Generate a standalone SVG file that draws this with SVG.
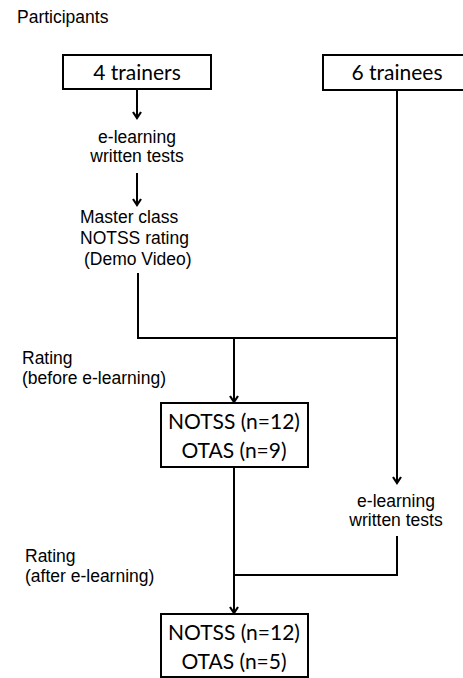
<svg xmlns="http://www.w3.org/2000/svg" width="463" height="678" viewBox="0 0 463 678">
  <style>
    .lbl { font-family: "Liberation Sans", Arial, sans-serif; font-size: 17.5px; fill: #000; }
    .box { fill: #fff; stroke: #000; stroke-width: 2; }
    .btxt { font-family: Lato, "Open Sans", sans-serif; font-size: 21px; fill: #000; text-anchor: middle; }
    .wire { fill: none; stroke: #000; stroke-width: 2; }
  </style>
  <defs>
    <!-- chevron arrowhead, drawn along +x so orient="auto" turns it with the line -->
    <marker id="arrow" markerWidth="10" markerHeight="10" refX="8.5" refY="5" orient="auto" markerUnits="userSpaceOnUse" viewBox="0 0 10 10">
      <path d="M2.5,1 L8.5,5 L2.5,9" fill="none" stroke="#000" stroke-width="2.2" stroke-linejoin="miter"/>
    </marker>
  </defs>
  <rect width="463" height="678" fill="#fff"/>

  <text class="lbl" x="17" y="23">Participants</text>

  <g id="trainers">
    <rect class="box" x="63" y="55" width="148" height="34"/>
    <text class="btxt" x="137" y="80">4 trainers</text>
  </g>
  <g id="trainees">
    <rect class="box" x="323" y="55" width="150" height="35"/>
    <text class="btxt" x="397" y="80">6 trainees</text>
  </g>

  <g id="trainer-elearning">
    <text class="lbl" x="137" y="143" text-anchor="middle">e-learning</text>
    <text class="lbl" x="137" y="162" text-anchor="middle">written tests</text>
  </g>
  <g id="master-class">
    <text class="lbl" x="80" y="223">Master class</text>
    <text class="lbl" x="80" y="244">NOTSS rating</text>
    <text class="lbl" x="84" y="265">(Demo Video)</text>
  </g>

  <g id="rating-before">
    <text class="lbl" x="22" y="364">Rating</text>
    <text class="lbl" x="22" y="384">(before e-learning)</text>
  </g>
  <g id="assessment-1">
    <rect class="box" x="161" y="403" width="147" height="64"/>
    <text class="btxt" x="234" y="429">NOTSS (n=12)</text>
    <text class="btxt" x="234" y="458">OTAS (n=9)</text>
  </g>

  <g id="trainee-elearning">
    <text class="lbl" x="396" y="507" text-anchor="middle">e-learning</text>
    <text class="lbl" x="396" y="526" text-anchor="middle">written tests</text>
  </g>

  <g id="rating-after">
    <text class="lbl" x="25" y="562">Rating</text>
    <text class="lbl" x="25" y="582">(after e-learning)</text>
  </g>
  <g id="assessment-2">
    <rect class="box" x="161" y="614" width="147" height="63"/>
    <text class="btxt" x="234" y="640">NOTSS (n=12)</text>
    <text class="btxt" x="234" y="669">OTAS (n=5)</text>
  </g>

  <g id="connectors">
    <line class="wire" x1="137" y1="89" x2="137" y2="118" marker-end="url(#arrow)"/>
    <line class="wire" x1="137" y1="173" x2="137" y2="205" marker-end="url(#arrow)"/>
    <polyline class="wire" points="138,273 138,338 397,338"/>
    <line class="wire" x1="234" y1="338" x2="234" y2="402" marker-end="url(#arrow)"/>
    <line class="wire" x1="397" y1="90" x2="397" y2="483" marker-end="url(#arrow)"/>
    <line class="wire" x1="234" y1="467" x2="234" y2="613" marker-end="url(#arrow)"/>
    <polyline class="wire" points="397,536 397,575 234,575"/>
  </g>
</svg>
